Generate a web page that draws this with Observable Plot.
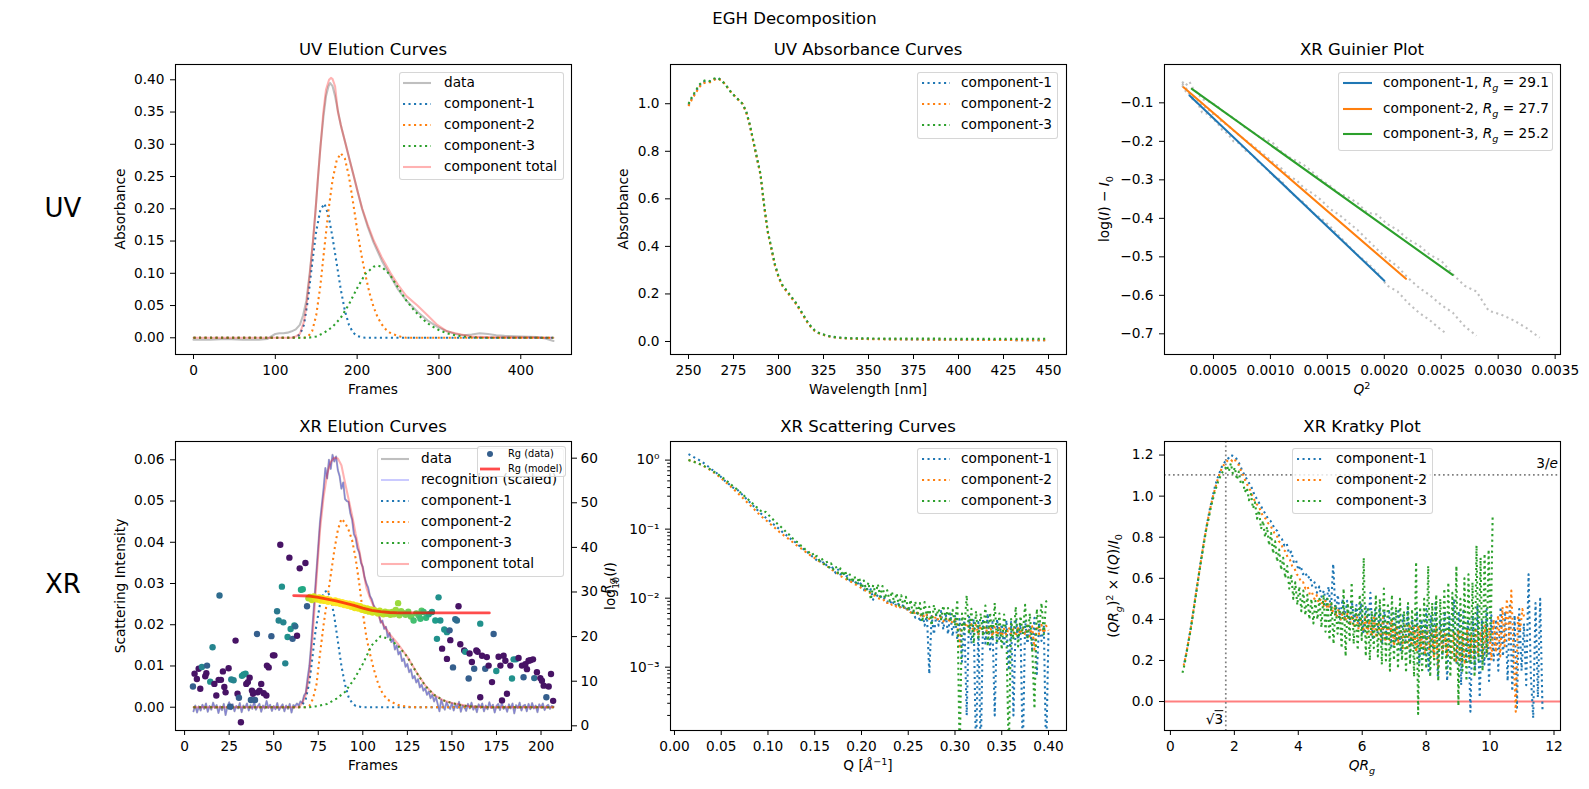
<!DOCTYPE html>
<html>
<head>
<meta charset="utf-8">
<script src="https://cdn.jsdelivr.net/npm/d3@7"></script>
<script src="https://cdn.jsdelivr.net/npm/@observablehq/plot@0.6"></script>
<style>
  html, body { margin: 0; padding: 0; background: #fff; }
  #fig { position: relative; width: 1589px; height: 789px; overflow: hidden; background: #fff;
         font-family: "DejaVu Sans", sans-serif; color: #000; }
  .lbl { position: absolute; white-space: nowrap; line-height: 1; }
  .lbl sub, .lbl sup, .legend sub, .legend sup { font-size: 70%; line-height: 0; }
  .legend { position: absolute; box-sizing: border-box; background: rgba(255,255,255,0.8);
            border: 1px solid rgba(204,204,204,0.8); border-radius: 3px; }
</style>
</head>
<body>
<div id="fig"></div>
<script>
// ---------------- DATA ----------------
const componentNames = ["component-1", "component-2", "component-3"];
const guinierRg = [29.1, 27.7, 25.2];

// UV elution curves (frames / absorbance)
const uvDataX = [0,20,40,60,80,90,95,100,105,110,115,120,125,130,134,138,142,146,149,152,155,159,162,165,167,170,173,176,180,186,191,196,201,206,213,220,230,241,250,260,274,286,298,310,320,330,340,350,360,370,380,400,420,430,440];
const uvDataY = [-0.003,-0.003,-0.002,-0.003,-0.003,-0.002,0.002,0.006,0.007,0.007,0.008,0.010,0.013,0.020,0.035,0.058,0.100,0.148,0.195,0.245,0.295,0.345,0.375,0.390,0.395,0.390,0.375,0.355,0.330,0.300,0.275,0.250,0.225,0.200,0.172,0.148,0.120,0.095,0.075,0.058,0.040,0.027,0.017,0.010,0.006,0.004,0.005,0.007,0.006,0.004,0.003,0.002,0.001,-0.001,-0.005];
const uvComp1X = [0,120,125,130,135,140,145,150,155,160,165,170,175,180,185,190,195,200,205,210,440];
const uvComp1Y = [0,0,0.001,0.005,0.020,0.060,0.115,0.165,0.198,0.208,0.190,0.155,0.115,0.075,0.042,0.020,0.008,0.003,0.001,0,0];
const uvComp2X = [0,135,140,145,150,155,160,165,170,175,180,185,190,195,200,205,210,215,220,225,230,235,240,245,250,255,260,440];
const uvComp2Y = [0,0,0.002,0.010,0.035,0.080,0.140,0.198,0.245,0.275,0.286,0.278,0.250,0.210,0.168,0.130,0.098,0.070,0.048,0.032,0.021,0.013,0.008,0.005,0.003,0.001,0,0];
const uvComp3X = [0,140,150,160,170,180,190,200,210,220,225,230,240,250,260,270,280,290,300,310,320,330,340,350,440];
const uvComp3Y = [0,0,0.002,0.008,0.017,0.031,0.052,0.077,0.099,0.110,0.112,0.110,0.098,0.078,0.058,0.042,0.029,0.019,0.012,0.007,0.004,0.002,0.001,0,0];
const uvTotalX = [0,120,125,130,135,138,142.3,146,149.3,152.2,155.5,158.7,162,165.7,168,170,173,176.5,181,186,191,196,201,206.3,213,220.6,230,241,250,260,273.7,286,298,310,320,327,340,360,440];
const uvTotalY = [0,0,0.002,0.006,0.025,0.050,0.100,0.150,0.200,0.250,0.300,0.350,0.385,0.400,0.403,0.401,0.390,0.350,0.325,0.300,0.275,0.250,0.225,0.200,0.175,0.150,0.125,0.100,0.082,0.065,0.050,0.035,0.020,0.010,0.007,0.005,0.002,0.001,0];

// UV absorbance spectra
const uvWavelength = [250,252,254,256,258,260,262,264,266,268,270,272,274,276,278,280,282,284,286,288,290,292,294,296,298,300,302,304,306,308,310,312,314,316,318,320,322,324,326,328,330,335,340,345,350,360,370,380,390,400,410,420,430,440,450];
const uvAbs1 = [0.995,1.025,1.05,1.075,1.09,1.095,1.095,1.10,1.11,1.10,1.085,1.065,1.045,1.03,1.015,1.0,0.967,0.912,0.842,0.772,0.702,0.572,0.462,0.392,0.322,0.272,0.237,0.217,0.197,0.177,0.157,0.132,0.107,0.082,0.062,0.046,0.037,0.031,0.026,0.022,0.019,0.015,0.013,0.012,0.011,0.010,0.009,0.008,0.008,0.007,0.007,0.006,0.006,0.005,0.005];
const uvAbs2 = [0.99,1.02,1.045,1.07,1.085,1.09,1.09,1.10,1.105,1.10,1.085,1.065,1.045,1.03,1.015,1.0,0.965,0.91,0.84,0.77,0.70,0.57,0.46,0.39,0.32,0.27,0.235,0.215,0.195,0.175,0.155,0.13,0.105,0.08,0.06,0.045,0.036,0.03,0.025,0.021,0.018,0.014,0.012,0.011,0.010,0.009,0.009,0.008,0.008,0.007,0.007,0.006,0.006,0.005,0.005];
const uvAbs3 = [1.00,1.03,1.055,1.08,1.095,1.10,1.095,1.105,1.11,1.10,1.085,1.065,1.045,1.03,1.015,1.0,0.97,0.915,0.845,0.775,0.705,0.575,0.465,0.395,0.325,0.275,0.24,0.22,0.20,0.18,0.16,0.135,0.11,0.085,0.064,0.048,0.038,0.032,0.027,0.023,0.02,0.016,0.014,0.013,0.013,0.012,0.012,0.012,0.012,0.011,0.011,0.011,0.011,0.011,0.012];

// Guinier plot (Q^2, log(I) - I0)
const guinX1 = [.000225,.000256,.000289,.000324,.000361,.0004,.000441,.000484,.000529,.000576,.000625,.000676,.000729,.000784,.000841,.0009,.000961,.001024,.001089,.001156,.001225,.001296,.001369,.001444,.001521,.0016,.001681,.001764,.001849,.001936,.002025,.002116,.002209,.002304,.002401,.0025,.00255];
const guinY1 = [-0.055,-0.070,-0.075,-0.095,-0.100,-0.125,-0.128,-0.140,-0.150,-0.170,-0.180,-0.200,-0.205,-0.225,-0.235,-0.255,-0.270,-0.290,-0.300,-0.325,-0.345,-0.360,-0.385,-0.400,-0.420,-0.445,-0.470,-0.495,-0.515,-0.540,-0.575,-0.590,-0.620,-0.645,-0.665,-0.690,-0.700];
const guinX2 = [.000225,.000256,.000289,.000324,.000361,.0004,.000441,.000484,.000529,.000576,.000625,.000676,.000729,.000784,.000841,.0009,.000961,.001024,.001089,.001156,.001225,.001296,.001369,.001444,.001521,.0016,.001681,.001764,.001849,.001936,.002025,.002116,.002209,.002304,.002401,.0025,.002601,.002704,.002809];
const guinY2 = [-0.050,-0.060,-0.078,-0.085,-0.092,-0.110,-0.112,-0.128,-0.132,-0.150,-0.158,-0.172,-0.185,-0.198,-0.210,-0.225,-0.238,-0.255,-0.268,-0.290,-0.300,-0.322,-0.335,-0.352,-0.375,-0.390,-0.410,-0.430,-0.455,-0.480,-0.505,-0.525,-0.555,-0.580,-0.600,-0.625,-0.645,-0.680,-0.705];
const guinX3 = [.000225,.000256,.000289,.000324,.000361,.0004,.000441,.000484,.000529,.000576,.000625,.000676,.000729,.000784,.000841,.0009,.000961,.001024,.001089,.001156,.001225,.001296,.001369,.001444,.001521,.0016,.001681,.001764,.001849,.001936,.002025,.002116,.002209,.002304,.002401,.0025,.002601,.002704,.002809,.002916,.003025,.003136,.003249,.003364];
const guinY3 = [-0.045,-0.055,-0.045,-0.065,-0.075,-0.090,-0.095,-0.100,-0.108,-0.120,-0.130,-0.140,-0.152,-0.165,-0.175,-0.188,-0.195,-0.205,-0.225,-0.240,-0.250,-0.262,-0.280,-0.300,-0.315,-0.335,-0.345,-0.360,-0.385,-0.390,-0.415,-0.430,-0.455,-0.470,-0.495,-0.510,-0.545,-0.575,-0.590,-0.640,-0.650,-0.665,-0.685,-0.710];
const guinFitX1 = [0.00029, 0.0020], guinFitY1 = [-0.081, -0.562];
const guinFitX2 = [0.000237, 0.00219], guinFitY2 = [-0.0595, -0.557];
const guinFitX3 = [0.00031, 0.0026], guinFitY3 = [-0.0636, -0.547];

// XR elution curves
const xrFrames = [5,6,7,8,9,10,11,12,13,14,15,16,17,18,19,20,21,22,23,24,25,26,27,28,29,30,31,32,33,34,35,36,37,38,39,40,41,42,43,44,45,46,47,48,49,50,51,52,53,54,55,56,57,58,59,60,61,62,63,64,65,66,67,68,69,70,71,72,73,74,75,76,77,78,79,80,81,82,83,84,85,86,87,88,89,90,91,92,93,94,95,96,97,98,99,100,101,102,103,104,105,106,107,108,109,110,111,112,113,114,115,116,117,118,119,120,121,122,123,124,125,126,127,128,129,130,131,132,133,134,135,136,137,138,139,140,141,142,143,144,145,146,147,148,149,150,151,152,153,154,155,156,157,158,159,160,161,162,163,164,165,166,167,168,169,170,171,172,173,174,175,176,177,178,179,180,181,182,183,184,185,186,187,188,189,190,191,192,193,194,195,196,197,198,199,200,201,202,203,204,205,206,207];
const xrData = [-0.0010,0.0004,-0.0013,0.0002,-0.0008,0.0006,-0.0004,0.0009,-0.0011,0.0003,
-0.0006,0.0011,-0.0002,0.0005,-0.0014,0.0002,-0.0007,0.0008,-0.0019,0.0001,
0.0012,-0.0005,0.0007,-0.0010,0.0003,-0.0003,0.0010,-0.0012,0.0004,-0.0002,
0.0009,-0.0008,0.0005,-0.0004,0.0013,-0.0006,0.0002,0.0008,-0.0011,0.0004,
-0.0003,0.0015,-0.0002,0.0006,-0.0009,0.0003,-0.0005,0.0010,-0.0007,0.0001,
0.0007,-0.0010,0.0004,-0.0004,0.0008,-0.0013,0.0005,0.0002,0.0009,0.0004,
0.0014,0.0010,0.0028,0.0035,0.0070,0.0100,0.0150,0.0210,0.0270,0.0330,
0.0390,0.0450,0.0490,0.0530,0.0580,0.0555,0.0600,0.0578,0.0612,0.0596,
0.0608,0.0575,0.0560,0.0530,0.0545,0.0505,0.0500,0.0498,0.0470,0.0455,
0.0420,0.0410,0.0385,0.0375,0.0350,0.0340,0.0315,0.0300,0.0290,0.0270,
0.0262,0.0248,0.0240,0.0225,0.0228,0.0205,0.0210,0.0190,0.0195,0.0170,
0.0180,0.0158,0.0165,0.0140,0.0150,0.0128,0.0135,0.0112,0.0118,0.0098,
0.0105,0.0085,0.0092,0.0070,0.0076,0.0060,0.0068,0.0048,0.0055,0.0040,
0.0046,0.0030,0.0038,0.0022,0.0030,0.0014,0.0025,0.0008,-0.0010,0.0018,
0.0005,-0.0006,0.0012,0.0002,-0.0004,0.0010,-0.0008,0.0006,-0.0002,0.0013,
-0.0011,0.0004,0.0001,-0.0009,0.0008,-0.0003,0.0011,-0.0006,0.0003,-0.0012,
0.0007,-0.0001,0.0009,-0.0010,0.0004,-0.0005,0.0012,-0.0002,0.0006,-0.0013,
0.0003,0.0008,-0.0007,0.0010,-0.0004,0.0002,-0.0011,0.0007,-0.0003,0.0009,
-0.0015,0.0005,-0.0002,0.0011,-0.0008,0.0003,0.0006,-0.0010,0.0008,-0.0005,
0.0010,-0.0003,0.0004,-0.0012,0.0007,-0.0001,0.0009,-0.0007,0.0002,0.0006,
-0.0004,0.0003,0.0001];
const xrComp1X = [5,64,66,68,70,72,73,74,76,78,80,82,84,86,88,90,92,94,96,100,207];
const xrComp1Y = [0,0,0.0005,0.002,0.006,0.013,0.017,0.020,0.025,0.0278,0.0283,0.0265,0.022,0.016,0.010,0.0055,0.0025,0.001,0.0003,0,0];
const xrComp2X = [5,68,70,72,74,76,78,80,82,84,86,88,90,92,94,96,98,100,102,104,106,108,110,112,115,120,125,130,207];
const xrComp2Y = [0,0,0.0003,0.002,0.0055,0.013,0.020,0.026,0.032,0.038,0.043,0.0457,0.0448,0.043,0.0405,0.036,0.030,0.023,0.017,0.013,0.0095,0.0065,0.0042,0.0028,0.0015,0.0005,0.0001,0,0];
const xrComp3X = [5,70,75,80,85,90,95,100,105,110,115,120,125,130,135,140,145,150,155,160,170,207];
const xrComp3Y = [0,0,0.0003,0.0008,0.002,0.0037,0.0067,0.0105,0.015,0.0172,0.0165,0.0148,0.0122,0.0085,0.0052,0.003,0.0017,0.001,0.0005,0.0002,0,0];
const xrTotalX = [5,64,66,68,70,72,74,76,78,80,82,84,86,88,90,92,94,96,98,100,102,104,106,108,110,112,115,120,125,130,135,140,145,150,160,170,207];
const xrTotalY = [0,0,0.001,0.003,0.008,0.018,0.031,0.043,0.051,0.0565,0.0595,0.0605,0.0603,0.0587,0.0545,0.0505,0.0465,0.042,0.038,0.0335,0.029,0.0265,0.0245,0.0228,0.021,0.0197,0.0178,0.0152,0.0122,0.0086,0.0053,0.003,0.0017,0.001,0.0002,0,0];

// Rg (data): frame, Rg, quality score (viridis colour)
const rgFrames = [4.7,5.6,6.9,7.9,8.8,9.7,11.6,12.6,12.2,14.4,15.7,16.7,17.8,19.1,19.6,20.4,21.5,22.3,23.0,24.7,25.6,26.2,27.5,28.6,29.7,30.5,31.6,32.2,33.1,34.2,34.6,35.5,36.5,37.2,37.8,38.4,39.5,40.6,41.0,42.1,43.0,44.4,45.9,46.2,47.2,48.7,49.6,50.4,51.9,52.8,53.7,54.6,55.4,56.5,57.8,58.8,59.5,60.6,61.6,62.1,63.1,64.6,65.3,66.3,67.8,68.7,
69.5,70.5,71.5,72.5,73.5,74.5,75.5,76.5,77.5,78.5,79.5,80.5,81.5,82.5,83.5,84.5,85.5,86.5,87.5,88.5,89.5,90.5,91.5,92.5,93.5,94.5,95.5,96.5,97.5,98.5,99.5,100.5,101.5,102.5,103.5,104.5,105.5,106.5,107.5,108.5,109.5,110.5,111.5,112.5,113.5,114.5,115.5,116.5,117.5,118.5,119.8,120.5,121.5,122.5,124,125.5,127,128.5,130,131.5,132.3,133,134.1,135.5,137,138.8,140.7,
141.6,142.5,143.5,144.5,145.7,147.2,147.2,148.7,149.1,150.6,151.9,152.8,153.7,154.7,156.9,157.5,159.4,159.9,161.2,162.5,163.7,164.4,165.9,165.9,166.9,168.7,169.6,170.6,172.5,173.4,174.9,176.2,177.2,178.1,179.0,180.0,180.9,182.8,183.7,184.6,185.9,187.4,189.3,190.2,191.2,192.1,193.0,194.0,195.5,196.2,197.7,199.6,200.5,201.5,203.0,204.3,205.6,206.8];
const rgValues = [8.8,11.7,10.5,12.8,8.3,13.2,11.1,13.5,11.8,9.9,17.6,9.4,6.8,10.3,29.2,10.3,12.2,8.7,7.5,12.9,4.3,10.4,10.2,19.1,7.2,6.3,0.8,11.2,11.5,11.7,9.4,9.8,10.8,5.8,7.9,7.2,5.8,20.6,7.5,7.9,9.4,7.3,6.8,13.5,13.1,20.1,15.8,15.8,25.7,23.6,40.6,31.2,23.2,14.0,19.9,37.7,21.7,19.5,22.5,22.3,20.2,35.3,30.5,30.6,36.5,26.8,
28.6,28.9,28.2,29.0,28.5,28.3,28.8,28.1,28.6,28.0,28.4,27.8,28.3,27.9,27.6,28.1,27.5,27.9,27.3,27.7,27.1,27.5,26.9,27.4,26.7,27.2,26.4,27.0,26.3,26.8,26.0,26.5,25.8,26.3,25.6,26.1,25.4,25.9,25.5,25.2,25.8,25.3,25.0,25.6,25.1,25.4,24.9,25.5,25.0,26.0,27.5,24.8,25.7,25.3,24.9,25.6,24.5,23.6,25.2,24.7,24.0,25.8,25.5,24.2,25.0,25.5,23.6,
19.5,28.8,23.6,17.3,21.6,21.0,15.0,21.4,19.2,13.1,23.9,23.6,26.8,18.3,16.9,16.6,10.6,16.2,14.3,12.8,16.9,16.6,22.9,6.4,15.7,12.8,15.4,13.5,9.8,20.6,12.3,15.5,13.5,5.7,15.7,14.6,7.2,13.5,10.6,14.9,14.9,15.2,13.5,10.9,13.8,12.7,14.6,14.7,14.9,10.7,12.0,10.7,10.1,9.0,6.4,8.8,11.6,5.6];
const rgQuality = [.3,.05,.05,.05,.05,.45,.05,.3,.05,.5,.45,.05,.05,.05,.35,.05,.05,.05,.05,.05,.3,.45,.45,.05,.05,.3,.05,.5,.5,.5,.05,.05,.05,.3,.05,.05,.3,.3,.05,.05,.05,.05,.05,.05,.05,.3,.05,.05,.4,.45,.05,.5,.45,.45,.5,.05,.5,.3,.5,.35,.05,.05,.6,.6,.05,.3,
.88,.9,.92,.93,.95,.96,.97,.98,.98,.99,1,1,1,1,1,1,1,1,1,1,1,1,1,.99,.99,.99,.98,.98,.97,.97,.96,.96,.95,.95,.94,.94,.93,.93,.92,.92,.91,.9,.9,.89,.88,.88,.87,.86,.86,.85,.85,.84,.83,.82,.8,.79,.78,.7,.76,.72,.68,.74,.68,.66,.6,.55,.55,
.5,.5,.5,.05,.5,.5,.05,.3,.05,.3,.35,.35,.05,.05,.05,.5,.3,.05,.05,.3,.05,.05,.5,.05,.05,.3,.05,.05,.05,.3,.5,.05,.05,.05,.05,.05,.05,.05,.5,.5,.45,.05,.05,.3,.05,.05,.05,.05,.05,.35,.05,.05,.05,.05,.3,.05,.05,.05];
const rgModelX = [61.2,70,75,80,85,90,95,100,105,110,115,120,130,171];
const rgModelY = [29.2,29.1,28.8,28.4,28.0,27.5,27.0,26.4,25.9,25.6,25.4,25.3,25.3,25.3];

// Scattering curves: Q grid and intensities
const qGrid = [.015,.0175,.02,.0225,.025,.0275,.03,.0325,.035,.0375,
.04,.0425,.045,.0475,.05,.0525,.055,.0575,.06,.0625,
.065,.0675,.07,.0725,.075,.0775,.08,.0825,.085,.0875,
.09,.0925,.095,.0975,.1,.1025,.105,.1075,.11,.1125,
.115,.1175,.12,.1225,.125,.1275,.13,.1325,.135,.1375,
.14,.1425,.145,.1475,.15,.1525,.155,.1575,.16,.1625,
.165,.1675,.17,.1725,.175,.1775,.18,.1825,.185,.1875,
.19,.1925,.195,.1975,.2,.2025,.205,.2075,.21,.2125,
.215,.2175,.22,.2225,.225,.2275,.23,.2325,.235,.2375,
.24,.2425,.245,.2475,.25,.2525,.255,.2575,.26,.2625,
.265,.2675,.27,.2725,.275,.2775,.28,.2825,.285,.2875,
.29,.2925,.295,.2975,.3,.3025,.305,.3075,.31,.3125,
.315,.3175,.32,.3225,.325,.3275,.33,.3325,.335,.3375,
.34,.3425,.345,.3475,.35,.3525,.355,.3575,.36,.3625,
.365,.3675,.37,.3725,.375,.3775,.38,.3825,.385,.3875,
.39,.3925,.395,.3975,.4];
const scatI1 = [1.22,1.17,1.12,1.07,1.03,0.98,0.93,0.88,0.83,0.78,
0.73,0.69,0.65,0.61,0.566,0.52,0.487,0.457,0.43,0.40,
0.385,0.37,0.342,0.316,0.292,0.27,0.249,0.23,0.213,0.197,
0.182,0.168,0.158,0.147,0.138,0.129,0.121,0.113,0.106,0.099,
0.092,0.086,0.081,0.076,0.071,0.067,0.063,0.059,0.055,0.052,
0.049,0.046,0.043,0.040,0.038,
0.035,0.036,0.031,0.034,0.030,0.027,0.030,0.026,0.023,0.026,
0.022,0.024,0.020,0.021,0.018,0.019,0.016,0.018,0.015,0.017,
0.013,0.0145,0.0125,0.0135,0.0095,0.012,0.0105,0.011,0.0095,0.010,
0.0088,0.0095,0.0080,0.0090,0.0075,0.0085,0.0070,0.0082,0.0065,0.0075,
0.0060,0.0068,0.0052,0.0066,0.0045,0.0062,0.0040,0.0058,0.0008,0.0055,
0.0030,0.0058,0.0040,0.0065,0.0035,0.0062,0.0030,0.0060,0.0028,0.0055,
0.0025,0.0050,0.0012,0.0048,0.0002,0.0055,0.0022,0.0050,0.00005,0.0045,
0.00005,0.0050,0.0022,0.0060,0.0018,0.0045,0.0002,0.0050,0.0024,0.0042,
0.0020,0.0048,0.0009,0.0045,0.0002,0.0050,0.0025,0.0042,0.00005,0.0048,
0.0022,0.0040,0.0018,0.0052,0.0008,0.0045,0.0024,0.0040,0.00005,0.0035];
const scatI2 = [1.0,0.98,0.96,0.93,0.90,0.87,0.84,0.80,0.77,0.73,
0.69,0.655,0.62,0.58,0.545,0.51,0.475,0.445,0.415,0.385,
0.36,0.335,0.31,0.288,0.266,0.246,0.228,0.211,0.195,0.181,
0.167,0.155,0.145,0.136,0.127,0.119,0.111,0.104,0.097,0.090,
0.085,0.080,0.076,0.071,0.067,0.063,0.059,0.056,0.053,0.050,
0.047,0.045,0.042,0.040,0.038,0.036,0.034,0.032,0.031,0.029,
0.028,0.026,0.025,0.024,0.0225,0.021,0.020,0.019,0.0185,0.0175,
0.017,0.016,0.0155,0.0148,0.014,0.0132,0.0128,0.0120,0.0118,0.0110,
0.0108,0.0100,0.0098,0.0092,0.0095,0.0085,0.0088,0.0080,0.0082,0.0075,
0.0078,0.0070,0.0074,0.0066,0.0070,0.0062,0.0066,0.0058,0.0062,0.0054,
0.0060,0.0052,0.0058,0.0050,0.0056,0.0049,0.0055,0.0047,0.0053,0.0046,
0.0052,0.0045,0.0050,0.0043,0.0049,0.0040,0.0020,0.0045,0.0038,0.0044,
0.0034,0.0042,0.0032,0.0041,0.0030,0.0040,0.0031,0.0039,0.0030,0.0040,
0.0028,0.0038,0.0029,0.0037,0.0028,0.0036,0.0029,0.0038,0.0030,0.0036,
0.0028,0.0037,0.0030,0.0038,0.0029,0.0040,0.0028,0.0039,0.0018,0.0040,
0.0030,0.0041,0.0031,0.0040,0.0034];
const scatI3 = [1.0,0.975,0.95,0.925,0.90,0.87,0.845,0.81,0.78,0.745,
0.71,0.675,0.645,0.61,0.575,0.545,0.51,0.48,0.45,0.42,
0.395,0.37,0.345,0.322,0.30,0.28,0.26,0.243,0.226,0.21,
0.196,0.183,0.172,0.178,0.165,0.150,0.140,0.128,0.120,0.112,
0.104,0.097,0.088,0.084,0.075,0.072,0.066,0.064,0.058,0.056,
0.050,0.049,0.044,0.045,0.039,0.041,0.035,0.038,0.031,0.035,
0.028,0.032,0.026,0.029,0.023,0.027,0.021,0.025,0.019,0.022,
0.017,0.021,0.016,0.020,0.014,0.018,0.013,0.017,0.0095,0.0155,
0.0115,0.016,0.0105,0.015,0.0098,0.013,0.0092,0.0125,0.0085,0.0118,
0.0078,0.0110,0.0075,0.0105,0.0065,0.0095,0.0058,0.0090,0.0060,0.0085,
0.0045,0.0088,0.0052,0.0075,0.0040,0.0080,0.0055,0.0070,0.0048,0.0078,
0.0050,0.0072,0.0045,0.0068,0.0040,0.0095,0.00005,0.0060,0.0035,0.0110,
0.0030,0.0070,0.0022,0.0065,0.0025,0.0060,0.0028,0.0078,0.0020,0.0062,
0.0025,0.0085,0.0022,0.0060,0.0018,0.0058,0.0030,0.00005,0.0050,0.0025,
0.0075,0.0020,0.0055,0.0030,0.0080,0.0025,0.0060,0.0020,0.00025,0.0070,
0.0035,0.0085,0.0030,0.0090,0.0095];

// Kratky values (QRg = Q * Rg of each component)
const kratky1 = [0.19,0.245,0.31,0.375,0.45,0.525,0.60,0.68,0.75,0.82,
0.88,0.94,0.99,1.04,1.08,1.11,1.14,1.16,1.175,1.185,
1.20,1.195,1.19,1.17,1.15,1.12,1.10,1.08,1.06,1.04,
1.01,0.99,0.97,0.95,0.93,0.91,0.89,0.88,0.86,0.84,
0.83,0.80,0.79,0.76,0.77,0.72,0.73,0.68,0.69,0.64,
0.66,0.62,0.63,0.60,0.61,0.56,0.58,0.53,0.56,0.51,
0.54,0.47,0.56,0.44,0.67,0.42,0.52,0.40,0.50,0.41,
0.49,0.38,0.49,0.39,0.47,0.36,0.48,0.33,0.46,0.35,
0.53,0.30,0.45,0.33,0.46,0.28,0.44,0.31,0.45,0.27,
0.43,0.29,0.44,0.24,0.42,0.28,0.46,0.22,0.40,0.26,
0.44,0.18,0.40,0.22,0.45,0.15,0.42,0.24,0.48,0.12,
0.40,0.22,0.44,0.10,0.42,0.20,0.50,0.18,0.44,0.08,
0.45,0.20,0.40,-0.05,0.42,0.15,0.47,0.02,0.40,0.18,
0.45,0.10,0.42,0.20,0.40,0.15,0.46,0.22,0.44,0.10,
0.48,0.05,0.42,-0.03,0.45,0.15,0.38,0.08,0.62,0.12,
-0.08,0.48,0.02,0.50,-0.04];
const kratky2 = [0.175,0.225,0.285,0.345,0.415,0.49,0.56,0.63,0.70,0.77,
0.83,0.89,0.94,0.99,1.03,1.07,1.10,1.13,1.15,1.165,
1.175,1.18,1.17,1.18,1.16,1.15,1.12,1.10,1.07,1.05,
1.03,1.00,0.98,0.96,0.95,0.92,0.90,0.89,0.87,0.86,
0.84,0.82,0.81,0.78,0.77,0.74,0.73,0.70,0.69,0.66,
0.65,0.62,0.61,0.58,0.58,0.55,0.56,0.52,0.53,0.50,
0.52,0.48,0.50,0.46,0.49,0.45,0.48,0.43,0.46,0.41,
0.45,0.40,0.44,0.39,0.43,0.37,0.42,0.36,0.43,0.35,
0.40,0.34,0.41,0.33,0.40,0.32,0.42,0.31,0.39,0.30,
0.41,0.29,0.38,0.30,0.40,0.27,0.37,0.28,0.38,0.26,
0.37,0.25,0.38,0.27,0.36,0.24,0.37,0.26,0.35,0.23,
0.36,0.25,0.34,0.22,0.37,0.16,0.35,0.24,0.33,0.22,
0.36,0.20,0.34,0.19,0.35,0.20,0.33,0.18,0.35,0.21,
0.32,0.20,0.36,0.22,0.34,0.21,0.37,0.23,0.36,0.20,
0.40,0.24,0.42,0.22,0.46,0.27,0.50,0.30,0.54,0.25,
-0.05,0.42,0.35,0.45,0.40];
const kratky3 = [0.14,0.18,0.235,0.29,0.345,0.41,0.475,0.54,0.61,0.67,
0.73,0.79,0.85,0.89,0.94,0.98,1.02,1.05,1.08,1.10,
1.12,1.13,1.15,1.12,1.16,1.11,1.14,1.08,1.12,1.06,
1.07,1.02,1.04,0.98,1.01,0.94,0.97,0.89,0.93,0.84,
0.88,0.80,0.85,0.76,0.82,0.72,0.78,0.68,0.74,0.64,
0.70,0.60,0.66,0.55,0.62,0.50,0.58,0.47,0.56,0.44,
0.54,0.42,0.52,0.40,0.50,0.38,0.49,0.40,0.50,0.36,
0.52,0.34,0.50,0.30,0.48,0.28,0.47,0.33,0.45,0.26,
0.55,0.22,0.48,0.30,0.58,0.28,0.45,0.25,0.52,0.30,
0.70,0.22,0.46,0.20,0.44,0.26,0.52,0.22,0.50,0.18,
0.55,0.20,0.48,0.15,0.52,0.20,0.46,0.16,0.50,0.20,
0.44,0.14,0.48,0.18,0.45,0.12,0.68,-0.06,0.46,0.14,
0.50,0.16,0.66,0.12,0.48,0.18,0.52,0.10,0.50,0.20,
0.55,0.15,0.58,0.12,0.53,0.20,0.66,-0.02,0.50,0.15,
0.60,0.10,0.62,0.18,0.58,0.12,0.76,0.20,0.70,0.15,
0.72,0.22,0.74,0.30,0.90];
const kratkyRefX = [1.7320508];   // sqrt(3)
const kratkyRefY = [1.1036383];   // 3/e

// Tick values / labels
const uvEluXTicks = [0,100,200,300,400];
const uvEluYTicks = [0,0.05,0.10,0.15,0.20,0.25,0.30,0.35,0.40];
const uvAbsXTicks = [250,275,300,325,350,375,400,425,450];
const uvAbsYTicks = [0,0.2,0.4,0.6,0.8,1.0];
const guinXTicks = [0.0005,0.0010,0.0015,0.0020,0.0025,0.0030,0.0035];
const guinYTicks = [-0.1,-0.2,-0.3,-0.4,-0.5,-0.6,-0.7];
const xrEluXTicks = [0,25,50,75,100,125,150,175,200];
const xrEluYTicks = [0,0.01,0.02,0.03,0.04,0.05,0.06];
const rgTicks = [0,10,20,30,40,50,60];
const scatXTicks = [0,0.05,0.10,0.15,0.20,0.25,0.30,0.35,0.40];
const scatYTicks = [1,0.1,0.01,0.001];
const scatYTickLabels = ["10\u2070","10\u207B\u00B9","10\u207B\u00B2","10\u207B\u00B3"];
const scatMinorTicks = [2e-4,3e-4,4e-4,5e-4,6e-4,7e-4,8e-4,9e-4,2e-3,3e-3,4e-3,5e-3,6e-3,7e-3,8e-3,9e-3,2e-2,3e-2,4e-2,5e-2,6e-2,7e-2,8e-2,9e-2,0.2,0.3,0.4,0.5,0.6,0.7,0.8,0.9];
const kratXTicks = [0,2,4,6,8,10,12];
const kratYTicks = [0,0.2,0.4,0.6,0.8,1.0,1.2];

// ---------------- LAYOUT / STYLE ----------------
const C = ["#1f77b4", "#ff7f0e", "#2ca02c"];
const LW = 2.08;                       // 1.5 pt
const DASH = "2.08,3.43";              // matplotlib ':' pattern at 1.5 pt
const DOTTED = {strokeDasharray: DASH, strokeWidth: LW, strokeLinecap: "butt"};
const FR = {
  uvElu: {x: 175, y: 64, w: 396, h: 290},
  uvAbs: {x: 670, y: 64, w: 396, h: 290},
  guin:  {x: 1164, y: 64, w: 396, h: 290},
  xrElu: {x: 175, y: 441, w: 396, h: 289},
  xrSc:  {x: 670, y: 441, w: 396, h: 289},
  krat:  {x: 1164, y: 441, w: 396, h: 289}
};
const fig = document.getElementById("fig");
const FONT = "'DejaVu Sans', sans-serif";

const ln = (xs, ys, o) => Plot.line(ys, {x: xs, y: ys, clip: true, strokeWidth: LW, ...o});
const axX = (ticks, fmt) => Plot.axisX({ticks, tickFormat: fmt, tickSize: 5, tickPadding: 6, label: null, anchor: "bottom"});
const axY = (ticks, fmt, anchor = "left", pad = 6) => Plot.axisY({ticks, tickFormat: fmt, tickSize: 5, tickPadding: pad, label: null, anchor});
const frame = () => Plot.frame({stroke: "black", strokeWidth: 1.1});

function panel(f, o) {
  const mL = 80, mR = o.mR ?? 20, mT = 20, mB = 45;
  const opts = {
    width: f.w + mL + mR, height: f.h + mT + mB,
    marginLeft: mL, marginRight: mR, marginTop: mT, marginBottom: mB,
    x: {domain: o.xd, type: o.xt ?? "linear", axis: null},
    y: {domain: o.yd, type: o.yt ?? "linear", axis: null},
    style: {fontFamily: FONT, fontSize: "13.7px", background: "transparent", color: "black", overflow: "visible"},
    marks: o.marks
  };
  if (o.color) opts.color = o.color;
  const svg = Plot.plot(opts);
  svg.style.position = "absolute";
  svg.style.left = (f.x - mL) + "px";
  svg.style.top = (f.y - mT) + "px";
  svg.style.maxWidth = "none";
  fig.appendChild(svg);
  const sx = svg.scale("x"), sy = svg.scale("y");
  return {px: v => f.x - mL + sx.apply(v), py: v => f.y - mT + sy.apply(v)};
}

function label(html, x, y, o = {}) {
  const el = document.createElement("div");
  el.className = "lbl";
  el.innerHTML = html;
  el.style.left = x + "px";
  el.style.top = y + "px";
  el.style.fontSize = (o.size ?? 13.7) + "px";
  const ax = o.anchor === "end" ? "-100%" : "-50%";
  el.style.transform = `translate(${ax},-50%)` + (o.rot ? " rotate(-90deg)" : "");
  fig.appendChild(el);
}

function legend(box, rowsY, sx, tx, rows, fs = 13.7) {
  const d = document.createElement("div");
  d.className = "legend";
  d.style.left = box[0] + "px"; d.style.top = box[1] + "px";
  d.style.width = (box[2] - box[0]) + "px"; d.style.height = (box[3] - box[1]) + "px";
  rows.forEach((r, i) => {
    const cy = rowsY[i] - box[1] - 1;
    const w = sx[1] - sx[0];
    const inner = r.marker
      ? `<circle cx="${w / 2}" cy="6" r="${r.marker}" fill="${r.stroke}"/>`
      : `<line x1="0" y1="6" x2="${w}" y2="6" stroke="${r.stroke}" stroke-width="${r.width || LW}" stroke-opacity="${r.opacity ?? 1}" ${r.dash ? `stroke-dasharray="${r.dash}"` : ""}/>`;
    const s = document.createElement("div");
    s.style.cssText = `position:absolute;left:${sx[0] - box[0] - 1}px;top:${cy - 6}px;width:${w}px;height:12px;`;
    s.innerHTML = `<svg width="${w}" height="12" style="display:block">${inner}</svg>`;
    d.appendChild(s);
    const t = document.createElement("div");
    t.style.cssText = `position:absolute;left:${tx - box[0] - 1}px;top:${cy}px;transform:translateY(-50%);font-size:${fs}px;line-height:1;white-space:nowrap;`;
    t.innerHTML = r.label;
    d.appendChild(t);
  });
  fig.appendChild(d);
}
const dotRows = componentNames.map((n, i) => ({label: n, stroke: C[i], dash: DASH}));

// ---------------- PANEL 1: UV Elution ----------------
panel(FR.uvElu, {xd: [-22, 462], yd: [-0.0259, 0.4237], marks: [
  ln(uvDataX, uvDataY, {stroke: "gray", strokeOpacity: 0.5}),
  ln(uvComp1X, uvComp1Y, {stroke: C[0], ...DOTTED}),
  ln(uvComp2X, uvComp2Y, {stroke: C[1], ...DOTTED}),
  ln(uvComp3X, uvComp3Y, {stroke: C[2], ...DOTTED}),
  ln(uvTotalX, uvTotalY, {stroke: "red", strokeOpacity: 0.3}),
  axX(uvEluXTicks, d3.format("d")), axY(uvEluYTicks, d3.format(".2f")), frame()
]});
legend([399, 72, 564, 180], [83.3, 104.2, 125.1, 146, 166.9], [403, 431], 444, [
  {label: "data", stroke: "gray", opacity: 0.5},
  ...dotRows,
  {label: "component total", stroke: "red", opacity: 0.3}
]);

// ---------------- PANEL 2: UV Absorbance ----------------
panel(FR.uvAbs, {xd: [240, 460], yd: [-0.0547, 1.165], marks: [
  ln(uvWavelength, uvAbs1, {stroke: C[0], ...DOTTED}),
  ln(uvWavelength, uvAbs2, {stroke: C[1], ...DOTTED}),
  ln(uvWavelength, uvAbs3, {stroke: C[2], ...DOTTED}),
  axX(uvAbsXTicks, d3.format("d")), axY(uvAbsYTicks, d3.format(".1f")), frame()
]});
legend([917, 72, 1058, 138.5], [82.8, 104, 125.2], [922, 950], 961, dotRows);

// ---------------- PANEL 3: Guinier ----------------
const GRAY_DOT = {stroke: "gray", strokeOpacity: 0.5, ...DOTTED};
panel(FR.guin, {xd: [0.00007, 0.003547], yd: [-0.7537, -0.0004], marks: [
  ln(guinX1, guinY1, GRAY_DOT),
  ln(guinX2, guinY2, GRAY_DOT),
  ln(guinX3, guinY3, GRAY_DOT),
  ln(guinFitX1, guinFitY1, {stroke: C[0]}),
  ln(guinFitX2, guinFitY2, {stroke: C[1]}),
  ln(guinFitX3, guinFitY3, {stroke: C[2]}),
  axX(guinXTicks, d3.format(".4f")), axY(guinYTicks, d3.format(".1f")), frame()
]});
legend([1338, 72, 1553, 151], [83.3, 108.7, 134], [1343, 1372], 1383,
  componentNames.map((n, i) => ({label: `${n}, <i>R</i><sub><i>g</i></sub> = ${guinierRg[i].toFixed(1)}`, stroke: C[i]})));

// ---------------- PANEL 4: XR Elution ----------------
const xrXd = [-5.1, 217.1];
panel(FR.xrElu, {xd: xrXd, yd: [-0.00565, 0.06444], marks: [
  ln(xrFrames, xrData, {stroke: "gray", strokeOpacity: 0.5}),
  ln(xrFrames, xrData, {stroke: "blue", strokeOpacity: 0.3, strokeWidth: 1.4}),
  ln(xrComp1X, xrComp1Y, {stroke: C[0], ...DOTTED}),
  ln(xrComp2X, xrComp2Y, {stroke: C[1], ...DOTTED}),
  ln(xrComp3X, xrComp3Y, {stroke: C[2], ...DOTTED}),
  ln(xrTotalX, xrTotalY, {stroke: "red", strokeOpacity: 0.3}),
  axX(xrEluXTicks, d3.format("d")), axY(xrEluYTicks, d3.format(".2f")), frame()
]});
legend([377, 448, 564, 577], [459.3, 480.2, 501.1, 522, 542.9, 563.8], [381, 409], 421, [
  {label: "data", stroke: "gray", opacity: 0.5},
  {label: "recognition (scaled)", stroke: "blue", opacity: 0.3, width: 1.4},
  ...dotRows,
  {label: "component total", stroke: "red", opacity: 0.3}
]);
panel(FR.xrElu, {xd: xrXd, yd: [-1.05, 63.74], mR: 45,
  color: {type: "linear", scheme: "viridis", domain: [0, 1]}, marks: [
  Plot.dot(rgFrames, {x: rgFrames, y: rgValues, fill: rgQuality, r: 3.2}),
  ln(rgModelX, rgModelY, {stroke: "red", strokeOpacity: 0.7, strokeWidth: 2.8}),
  axY(rgTicks, d3.format("d"), "right", 4)
]});
legend([477, 446, 566, 477], [453.5, 468.5], [480, 500], 508, [
  {label: "Rg (data)", stroke: d3.interpolateViridis(0.3), marker: 3},
  {label: "Rg (model)", stroke: "red", opacity: 0.7, width: 2.8}
], 9.8);

// ---------------- PANEL 5: XR Scattering ----------------
const tickLabelMap = new Map(scatYTicks.map((t, i) => [t, scatYTickLabels[i]]));
panel(FR.xrSc, {xd: [-0.00425, 0.41925], yd: [1.21e-4, 1.86], yt: "log", marks: [
  ln(qGrid, scatI1, {stroke: C[0], ...DOTTED}),
  ln(qGrid, scatI2, {stroke: C[1], ...DOTTED}),
  ln(qGrid, scatI3, {stroke: C[2], ...DOTTED}),
  axX(scatXTicks, d3.format(".2f")),
  Plot.axisY({ticks: scatMinorTicks, tickSize: 2.8, tickFormat: () => "", label: null, anchor: "left"}),
  axY(scatYTicks, d => tickLabelMap.get(d)), frame()
]});
legend([917, 448, 1058, 514], [459.3, 480.3, 501.2], [922, 950], 961, dotRows);

// ---------------- PANEL 6: Kratky ----------------
const kratkyX = guinierRg.map(rg => qGrid.map(q => q * rg));
const K = panel(FR.krat, {xd: [-0.185, 12.203], yd: [-0.141, 1.266], marks: [
  Plot.ruleY([0], {stroke: "red", strokeOpacity: 0.5, strokeWidth: 2}),
  Plot.ruleY(kratkyRefY, {stroke: "gray", strokeWidth: 1.7, strokeDasharray: "1.7,2.8"}),
  Plot.ruleX(kratkyRefX, {stroke: "gray", strokeWidth: 1.7, strokeDasharray: "1.7,2.8"}),
  ln(kratkyX[0], kratky1, {stroke: C[0], ...DOTTED}),
  ln(kratkyX[1], kratky2, {stroke: C[1], ...DOTTED}),
  ln(kratkyX[2], kratky3, {stroke: C[2], ...DOTTED}),
  axX(kratXTicks, d3.format("d")), axY(kratYTicks, d3.format(".1f")), frame()
]});
legend([1292, 448, 1433, 514], [459.3, 480.3, 501.2], [1297, 1323], 1336, dotRows);
label("3/<i>e</i>", FR.krat.x + FR.krat.w - 2, K.py(kratkyRefY[0]) - 10, {anchor: "end"});
label("\u221A<span style=\"text-decoration:overline\">3</span>", K.px(kratkyRefX[0]) - 2, FR.krat.y + FR.krat.h - 10, {anchor: "end"});

// ---------------- TEXT ----------------
label("EGH Decomposition", 794.5, 18.5, {size: 16.5});
label("UV", 63, 207.5, {size: 26});
label("XR", 63, 583.5, {size: 26});
const titles = [["UV Elution Curves", FR.uvElu], ["UV Absorbance Curves", FR.uvAbs], ["XR Guinier Plot", FR.guin],
                ["XR Elution Curves", FR.xrElu], ["XR Scattering Curves", FR.xrSc], ["XR Kratky Plot", FR.krat]];
titles.forEach(([t, f]) => label(t, f.x + f.w / 2, f.y - 14.5, {size: 16.5}));
const xLabels = [["Frames", FR.uvElu], ["Wavelength [nm]", FR.uvAbs], ["<i>Q</i><sup>2</sup>", FR.guin],
                 ["Frames", FR.xrElu], ["Q [<i>\u00C5</i><sup>\u22121</sup>]", FR.xrSc], ["<i>QR</i><sub><i>g</i></sub>", FR.krat]];
xLabels.forEach(([t, f]) => label(t, f.x + f.w / 2, f.y + f.h + 35.5));
label("Absorbance", 120.5, 209, {rot: true});
label("Absorbance", 623.5, 209, {rot: true});
label("log(<i>I</i>) \u2212 <i>I</i><sub>0</sub>", 1105, 209, {rot: true});
label("Scattering Intensity", 121, 585.5, {rot: true});
label("log<sub>10</sub>(<i>I</i>)", 611, 585.5, {rot: true});
label("<i>R</i><sub><i>g</i></sub>", 607, 585.5, {rot: true});
label("(<i>QR</i><sub><i>g</i></sub>)<sup>2</sup> \u00D7 <i>I</i>(<i>Q</i>)/<i>I</i><sub>0</sub>", 1114, 585.5, {rot: true});
</script>
</body>
</html>
